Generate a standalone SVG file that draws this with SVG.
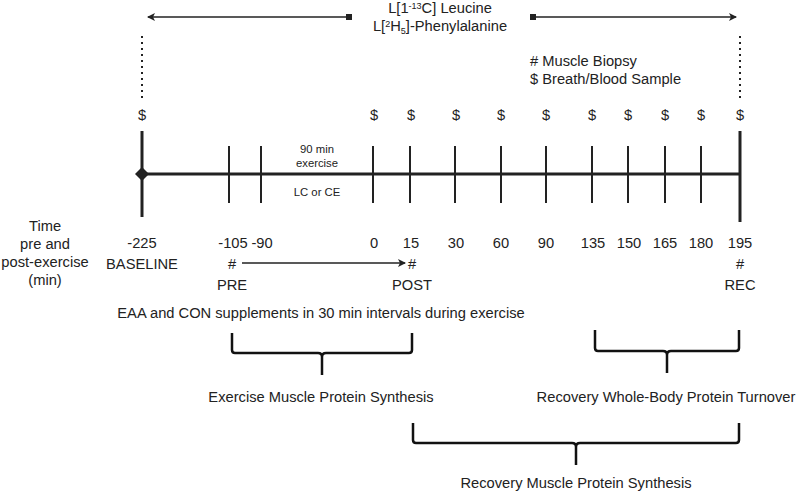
<svg xmlns="http://www.w3.org/2000/svg" width="800" height="494" viewBox="0 0 800 494">
<style>
text{font-family:"Liberation Sans",Arial,sans-serif;fill:#222;font-size:14.7px;text-anchor:middle}
.s{font-size:11.3px}
.tick{stroke:#222;stroke-width:2}
.main{stroke:#222;stroke-width:3}
.ln{stroke:#222;stroke-width:1.5;fill:none}
.br{stroke:#111;stroke-width:2.5;fill:none}
.dot{stroke:#222;stroke-width:2;stroke-dasharray:2 4}
</style>
<defs>
<marker id="ah" markerWidth="8" markerHeight="8" refX="7" refY="4" orient="auto" markerUnits="userSpaceOnUse">
<path d="M0,0 L8,4 L0,8 L2,4 Z" fill="#222"/>
</marker>
<marker id="sq" markerWidth="6" markerHeight="6" refX="3" refY="3" orient="auto" markerUnits="userSpaceOnUse">
<rect x="0" y="0" width="6" height="6" fill="#222"/>
</marker>
</defs>
<g id="connectors">
<line class="ln" x1="349" y1="17" x2="148" y2="17" marker-start="url(#sq)" marker-end="url(#ah)"/>
<line class="ln" x1="533" y1="17" x2="736" y2="17" marker-start="url(#sq)" marker-end="url(#ah)"/>
<line class="dot" x1="142" y1="36" x2="142" y2="100"/>
<line class="dot" x1="740" y1="36" x2="740" y2="100"/>
<line class="ln" x1="242" y1="263" x2="405" y2="263" marker-end="url(#ah)"/>
</g>
<g id="infusion-label">
<text x="440" y="13">L[1<tspan font-size="9" dy="-4">-13</tspan><tspan dy="4">C] Leucine</tspan></text>
<text x="440" y="31">L[<tspan font-size="9" dy="-4">2</tspan><tspan dy="4">H</tspan><tspan font-size="9" dy="3">5</tspan><tspan dy="-3">]-Phenylalanine</tspan></text>
</g>
<g id="legend">
<text x="530" y="66" style="text-anchor:start"># Muscle Biopsy</text>
<text x="530" y="84" style="text-anchor:start">$ Breath/Blood Sample</text>
</g>
<g id="samples">
<text x="142" y="120">$</text>
<text x="374" y="120">$</text>
<text x="411" y="120">$</text>
<text x="456" y="120">$</text>
<text x="501" y="120">$</text>
<text x="546" y="120">$</text>
<text x="592" y="120">$</text>
<text x="628" y="120">$</text>
<text x="665" y="120">$</text>
<text x="701" y="120">$</text>
<text x="740" y="120">$</text>
</g>
<g id="timeline">
<line class="main" x1="142" y1="174" x2="740" y2="174"/>
<line class="main" x1="142" y1="131" x2="142" y2="217"/>
<line class="main" x1="740" y1="131" x2="740" y2="222"/>
<path d="M142,167 L149,174 L142,181 L135,174 Z" fill="#222"/>
<line class="tick" x1="229" y1="146" x2="229" y2="203"/>
<line class="tick" x1="261" y1="146" x2="261" y2="203"/>
<line class="tick" x1="373" y1="146" x2="373" y2="203"/>
<line class="tick" x1="410" y1="146" x2="410" y2="203"/>
<line class="tick" x1="455" y1="146" x2="455" y2="203"/>
<line class="tick" x1="501" y1="146" x2="501" y2="203"/>
<line class="tick" x1="546" y1="146" x2="546" y2="203"/>
<line class="tick" x1="592" y1="146" x2="592" y2="203"/>
<line class="tick" x1="628" y1="146" x2="628" y2="203"/>
<line class="tick" x1="665" y1="146" x2="665" y2="203"/>
<line class="tick" x1="701" y1="146" x2="701" y2="203"/>
</g>
<g id="exercise-label">
<text class="s" x="317" y="153">90 min</text>
<text class="s" x="317" y="167">exercise</text>
<text class="s" x="317" y="196">LC or CE</text>
</g>
<g id="time-label">
<text x="45" y="231">Time</text>
<text x="45" y="249">pre and</text>
<text x="45" y="267">post-exercise</text>
<text x="45" y="285">(min)</text>
</g>
<g id="times">
<text x="142" y="248">-225</text>
<text x="233" y="248">-105</text>
<text x="262" y="248">-90</text>
<text x="374" y="248">0</text>
<text x="411" y="248">15</text>
<text x="456" y="248">30</text>
<text x="501" y="248">60</text>
<text x="546" y="248">90</text>
<text x="593" y="248">135</text>
<text x="629" y="248">150</text>
<text x="665" y="248">165</text>
<text x="701" y="248">180</text>
<text x="740" y="248">195</text>
</g>
<g id="baseline"><text x="142" y="269">BASELINE</text></g>
<g id="pre"><text x="232" y="269">#</text><text x="232" y="290">PRE</text></g>
<g id="post"><text x="412" y="269">#</text><text x="412" y="290">POST</text></g>
<g id="rec"><text x="740" y="269">#</text><text x="740" y="290">REC</text></g>
<g id="supplements"><text x="321" y="318">EAA and CON supplements in 30 min intervals during exercise</text></g>
<g id="exercise-mps">
<path class="br" d="M232,333 L232,350 Q232,353 235,353 L318,353 Q322,353 322,357 L322,375 M322,357 Q322,353 326,353 L409,353 Q412,353 412,350 L412,333"/>
<text x="321" y="402">Exercise Muscle Protein Synthesis</text>
</g>
<g id="recovery-wbpt">
<path class="br" d="M595,330 L595,348 Q595,351 598,351 L663,351 Q667,351 667,355 L667,373 M667,355 Q667,351 671,351 L736,351 Q739,351 739,348 L739,330"/>
<text x="666" y="402">Recovery Whole-Body Protein Turnover</text>
</g>
<g id="recovery-mps">
<path class="br" d="M413,423 L413,440 Q413,443 416,443 L572,443 Q576,443 576,447 L576,465 M576,447 Q576,443 580,443 L736,443 Q739,443 739,440 L739,423"/>
<text x="576" y="488">Recovery Muscle Protein Synthesis</text>
</g>
</svg>
